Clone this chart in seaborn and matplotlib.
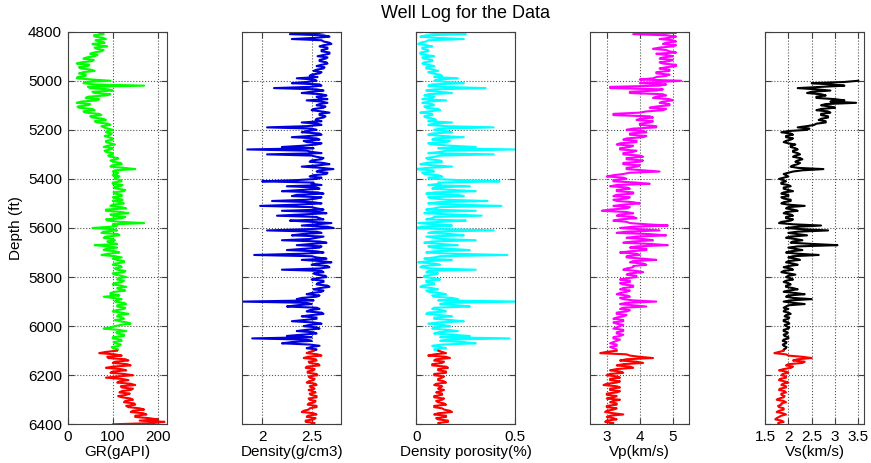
import numpy as np
import pandas as pd
import matplotlib
matplotlib.use("Agg")
import matplotlib.pyplot as plt
import seaborn as sns

# Depth samples every 5 ft
depth = np.arange(4800, 6401, 5)
split_depth = 6100

# Gamma ray (gAPI), one row per 100 ft
gr = [
    65, 72, 80, 58, 60, 78, 85, 62, 70, 82, 55, 68, 88, 60, 65, 80, 75, 58, 50, 66,
    60, 42, 35, 58, 55, 30, 20, 48, 45, 25, 30, 52, 60, 35, 25, 40, 40, 22, 20, 55,
    95, 40, 35, 60, 170, 45, 50, 90, 100, 55, 60, 95, 85, 45, 40, 70, 65, 30, 20, 50,
    45, 22, 25, 55, 60, 35, 40, 70, 75, 50, 55, 80, 85, 60, 65, 90, 95, 75, 80, 90,
    100, 88, 85, 98, 95, 82, 90, 100, 100, 85, 85, 95, 105, 88, 80, 100, 95, 82, 85, 100,
    100, 90, 95, 112, 110, 95, 100, 118, 120, 98, 95, 125, 150, 105, 100, 112, 110, 100, 115, 105,
    105, 118, 120, 100, 100, 122, 115, 102, 110, 128, 125, 102, 105, 120, 120, 100, 110, 122, 100, 118,
    125, 100, 95, 118, 130, 85, 85, 120, 135, 95, 100, 128, 120, 85, 90, 115, 170, 100, 110, 95,
    55, 100, 110, 80, 75, 112, 115, 85, 80, 100, 105, 88, 95, 110, 60, 90, 110, 85, 80, 105,
    115, 90, 75, 105, 120, 100, 110, 125, 125, 105, 100, 118, 120, 105, 110, 128, 125, 100, 105, 120,
    130, 112, 110, 125, 120, 105, 100, 118, 130, 110, 115, 128, 105, 95, 95, 115, 80, 100, 120, 108,
    105, 125, 130, 110, 110, 128, 125, 108, 100, 120, 135, 112, 110, 122, 125, 105, 115, 132, 140, 118,
    105, 95, 80, 112, 130, 108, 110, 125, 125, 100, 100, 118, 120, 102, 105, 118, 115, 98, 100, 112,
    110, 85, 70, 105, 120, 88, 90, 128, 135, 105, 100, 132, 140, 100, 85, 118, 130, 100, 95, 125,
    145, 110, 85, 120, 135, 115, 110, 140, 150, 118, 120, 145, 140, 120, 115, 138, 130, 112, 120, 140,
    145, 128, 125, 148, 150, 130, 135, 160, 170, 145, 140, 168, 175, 150, 150, 180, 200, 160, 215, 190,
    100,
]

# Bulk density (g/cm3)
rho = [
    2.65, 2.58, 2.28, 2.62, 2.68, 2.55, 2.30, 2.60, 2.62, 2.68, 2.70, 2.62, 2.58, 2.66, 2.66, 2.60, 2.60, 2.68, 2.68, 2.62,
    2.56, 2.66, 2.64, 2.58, 2.58, 2.65, 2.66, 2.60, 2.55, 2.63, 2.62, 2.55, 2.52, 2.60, 2.58, 2.50, 2.48, 2.56, 2.35, 2.52,
    2.55, 2.45, 2.30, 2.58, 2.60, 2.48, 2.12, 2.55, 2.62, 2.50, 2.40, 2.60, 2.65, 2.55, 2.58, 2.66, 2.45, 2.60, 2.66, 2.58,
    2.55, 2.64, 2.62, 2.52, 2.50, 2.60, 2.68, 2.58, 2.58, 2.64, 2.62, 2.55, 2.54, 2.60, 2.40, 2.56, 2.60, 2.45, 2.05, 2.50,
    2.55, 2.45, 2.40, 2.58, 2.60, 2.48, 2.30, 2.55, 2.58, 2.42, 2.45, 2.60, 2.55, 2.40, 2.20, 2.52, 1.85, 2.45, 2.50, 2.60,
    2.05, 2.50, 2.55, 2.62, 2.60, 2.50, 2.48, 2.62, 2.68, 2.55, 2.40, 2.60, 2.72, 2.58, 2.55, 2.66, 2.65, 2.52, 2.48, 2.60,
    2.55, 2.35, 2.00, 2.52, 2.50, 2.60, 2.25, 2.55, 2.58, 2.40, 2.20, 2.56, 2.62, 2.35, 2.30, 2.60, 2.55, 2.45, 2.10, 2.52,
    2.60, 2.35, 1.98, 2.50, 2.55, 2.62, 2.20, 2.58, 2.65, 2.40, 2.15, 2.55, 2.58, 2.62, 2.28, 2.50, 2.70, 2.55, 2.40, 2.66,
    2.72, 2.45, 2.05, 2.55, 2.60, 2.40, 2.30, 2.62, 2.55, 2.48, 2.20, 2.58, 2.65, 2.50, 2.35, 2.60, 2.58, 2.42, 2.25, 2.55,
    2.62, 2.40, 1.92, 2.50, 2.55, 2.65, 2.40, 2.60, 2.70, 2.55, 2.50, 2.66, 2.68, 2.58, 2.20, 2.60, 2.62, 2.52, 2.55, 2.64,
    2.65, 2.55, 2.50, 2.62, 2.62, 2.56, 2.55, 2.66, 2.68, 2.58, 2.52, 2.62, 2.60, 2.50, 2.45, 2.58, 2.55, 2.40, 2.35, 2.52,
    1.80, 2.45, 2.50, 2.35, 2.25, 2.55, 2.58, 2.48, 2.45, 2.60, 2.62, 2.50, 2.40, 2.55, 2.55, 2.42, 2.30, 2.52, 2.60, 2.48,
    2.42, 2.55, 2.58, 2.45, 2.35, 2.52, 2.55, 2.40, 2.25, 2.50, 1.90, 2.45, 2.50, 2.30, 2.20, 2.48, 2.58, 2.50, 2.45, 2.55,
    2.52, 2.48, 2.45, 2.56, 2.60, 2.46, 2.42, 2.54, 2.55, 2.47, 2.48, 2.57, 2.58, 2.45, 2.44, 2.53, 2.52, 2.46, 2.46, 2.55,
    2.56, 2.47, 2.48, 2.53, 2.52, 2.47, 2.45, 2.54, 2.55, 2.48, 2.50, 2.53, 2.47, 2.51, 2.54, 2.48, 2.49, 2.55, 2.55, 2.47,
    2.48, 2.54, 2.53, 2.47, 2.46, 2.55, 2.55, 2.48, 2.47, 2.42, 2.40, 2.52, 2.55, 2.46, 2.45, 2.54, 2.52, 2.44, 2.44, 2.53,
    2.50,
]

# Density porosity (fraction)
phi = [
    0.04, 0.08, 0.25, 0.05, 0.02, 0.09, 0.24, 0.06, 0.05, 0.02, 0.01, 0.05, 0.08, 0.03, 0.03, 0.06, 0.06, 0.02, 0.02, 0.05,
    0.09, 0.03, 0.04, 0.08, 0.08, 0.04, 0.03, 0.06, 0.09, 0.05, 0.05, 0.09, 0.11, 0.06, 0.08, 0.12, 0.13, 0.09, 0.21, 0.11,
    0.09, 0.15, 0.24, 0.08, 0.06, 0.13, 0.35, 0.09, 0.05, 0.12, 0.18, 0.06, 0.04, 0.09, 0.08, 0.03, 0.15, 0.06, 0.03, 0.08,
    0.09, 0.04, 0.05, 0.11, 0.12, 0.06, 0.02, 0.08, 0.08, 0.04, 0.05, 0.09, 0.10, 0.06, 0.18, 0.09, 0.06, 0.15, 0.39, 0.12,
    0.09, 0.15, 0.18, 0.08, 0.06, 0.13, 0.24, 0.09, 0.08, 0.17, 0.15, 0.06, 0.09, 0.18, 0.30, 0.11, 0.50, 0.15, 0.12, 0.06,
    0.39, 0.12, 0.09, 0.05, 0.06, 0.12, 0.13, 0.05, 0.02, 0.09, 0.18, 0.06, -0.01, 0.08, 0.09, 0.03, 0.04, 0.11, 0.13, 0.06,
    0.09, 0.21, 0.42, 0.11, 0.12, 0.06, 0.27, 0.09, 0.08, 0.18, 0.30, 0.09, 0.05, 0.21, 0.24, 0.06, 0.09, 0.15, 0.36, 0.11,
    0.06, 0.21, 0.43, 0.12, 0.09, 0.05, 0.30, 0.08, 0.04, 0.18, 0.33, 0.09, 0.08, 0.05, 0.25, 0.12, 0.01, 0.09, 0.18, 0.03,
    -0.01, 0.15, 0.39, 0.09, 0.06, 0.18, 0.24, 0.05, 0.09, 0.13, 0.30, 0.08, 0.04, 0.12, 0.21, 0.06, 0.08, 0.17, 0.27, 0.09,
    0.05, 0.18, 0.46, 0.12, 0.09, 0.04, 0.18, 0.06, 0.01, 0.09, 0.12, 0.03, 0.02, 0.08, 0.30, 0.06, 0.05, 0.11, 0.09, 0.04,
    0.04, 0.09, 0.12, 0.05, 0.05, 0.09, 0.09, 0.03, 0.02, 0.08, 0.11, 0.05, 0.06, 0.12, 0.15, 0.08, 0.09, 0.18, 0.21, 0.11,
    0.53, 0.15, 0.12, 0.21, 0.27, 0.09, 0.08, 0.13, 0.15, 0.06, 0.05, 0.12, 0.18, 0.09, 0.09, 0.17, 0.24, 0.11, 0.06, 0.13,
    0.17, 0.09, 0.08, 0.15, 0.21, 0.11, 0.09, 0.18, 0.27, 0.12, 0.47, 0.15, 0.12, 0.24, 0.30, 0.13, 0.08, 0.12, 0.15, 0.09,
    0.11, 0.13, 0.15, 0.09, 0.06, 0.15, 0.17, 0.10, 0.09, 0.14, 0.13, 0.08, 0.08, 0.15, 0.16, 0.11, 0.11, 0.15, 0.15, 0.09,
    0.09, 0.14, 0.13, 0.11, 0.11, 0.14, 0.15, 0.10, 0.09, 0.13, 0.12, 0.11, 0.14, 0.12, 0.10, 0.13, 0.13, 0.09, 0.09, 0.14,
    0.13, 0.10, 0.11, 0.14, 0.15, 0.09, 0.09, 0.13, 0.14, 0.17, 0.18, 0.11, 0.09, 0.15, 0.15, 0.10, 0.11, 0.16, 0.16, 0.11,
    0.12,
]

# P-wave velocity (km/s)
vp = [
    4.9, 5.1, 3.8, 4.8, 5.1, 4.9, 4.6, 5.0, 5.1, 4.8, 4.7, 5.1, 5.0, 4.6, 4.4, 4.8, 4.9, 5.1, 4.5, 4.8,
    5.0, 4.7, 4.6, 5.0, 4.9, 4.6, 4.7, 5.1, 5.1, 4.8, 4.6, 4.9, 4.9, 4.5, 4.5, 4.9, 4.8, 4.5, 4.4, 4.0,
    5.25, 4.6, 4.0, 4.8, 4.6, 3.1, 3.1, 4.7, 4.5, 3.7, 3.7, 4.7, 4.8, 4.5, 4.4, 4.9, 5.0, 4.7, 4.6, 4.9,
    4.9, 4.5, 4.3, 4.8, 4.7, 4.2, 4.0, 3.2, 3.2, 4.3, 4.4, 4.0, 3.9, 4.4, 4.3, 4.0, 4.0, 4.5, 4.5, 3.8,
    3.6, 4.1, 4.2, 3.7, 3.7, 4.2, 4.1, 3.6, 3.5, 3.9, 3.9, 3.4, 3.3, 3.8, 3.7, 3.4, 3.4, 3.9, 3.8, 3.5,
    3.5, 4.0, 4.1, 3.6, 3.6, 4.1, 4.0, 3.5, 3.5, 4.0, 3.9, 3.6, 3.6, 4.1, 4.6, 3.7, 3.5, 3.2, 3.0, 3.5,
    3.6, 3.2, 3.2, 3.9, 4.3, 3.3, 3.1, 3.6, 3.7, 3.3, 3.3, 3.8, 3.8, 3.3, 3.2, 3.7, 3.6, 3.2, 3.3, 3.8,
    4.0, 3.5, 3.2, 3.7, 3.6, 3.1, 2.85, 3.6, 3.8, 3.4, 3.3, 3.8, 3.9, 3.4, 3.2, 3.6, 3.7, 4.2, 4.85, 3.8,
    3.4, 4.0, 4.6, 3.6, 3.3, 4.3, 4.8, 3.9, 3.6, 4.1, 4.4, 3.8, 3.5, 4.3, 4.85, 3.9, 3.7, 4.2, 4.2, 3.7,
    3.4, 3.9, 4.0, 3.6, 3.6, 4.1, 4.5, 3.8, 3.7, 4.1, 4.2, 3.8, 3.8, 3.6, 3.5, 3.9, 4.1, 3.7, 3.6, 3.9,
    3.9, 3.6, 3.4, 3.7, 3.7, 3.4, 3.5, 3.8, 3.8, 3.5, 3.4, 3.7, 3.6, 3.4, 3.3, 3.6, 3.7, 3.4, 3.5, 3.8,
    4.5, 3.6, 3.4, 3.8, 4.2, 3.5, 3.4, 3.7, 3.6, 3.3, 3.3, 3.6, 3.5, 3.3, 3.2, 3.5, 3.5, 3.2, 3.3, 3.5,
    3.4, 3.3, 3.2, 3.5, 3.5, 3.3, 3.3, 3.5, 3.4, 3.2, 3.2, 3.4, 3.3, 3.2, 3.1, 3.3, 3.3, 3.1, 3.2, 3.3,
    3.3, 3.0, 2.8, 3.6, 3.7, 4.0, 4.4, 3.6, 3.4, 3.9, 4.1, 3.5, 3.3, 3.7, 3.8, 3.3, 3.1, 3.4, 3.5, 3.1,
    3.0, 3.3, 3.4, 3.1, 3.1, 3.4, 3.3, 3.0, 2.9, 3.3, 3.4, 3.1, 3.1, 3.4, 3.3, 3.0, 3.0, 3.3, 3.2, 3.0,
    3.4, 3.2, 3.1, 3.3, 3.3, 3.0, 3.0, 3.3, 3.2, 3.0, 2.95, 3.2, 3.5, 3.1, 3.0, 3.2, 3.3, 3.0, 2.95, 3.2,
    3.1,
]

# S-wave velocity (km/s); not logged above 5000 ft
nan = np.nan
vs = [nan] * 40 + [
    3.5, 3.2, 2.5, 2.9, 3.2, 2.7, 2.2, 2.6, 2.9, 2.5, 2.4, 2.7, 2.8, 2.6, 2.6, 3.0, 3.2, 2.9, 3.45, 2.8,
    2.7, 2.9, 3.0, 2.7, 2.6, 2.85, 2.9, 2.7, 2.7, 2.85, 2.85, 2.7, 2.65, 2.8, 2.8, 2.6, 2.55, 2.4, 2.2, 2.45,
    2.4, 2.0, 1.85, 2.05, 2.1, 1.95, 1.95, 2.1, 2.05, 1.95, 1.9, 2.0, 2.15, 2.05, 2.05, 2.15, 2.2, 2.1, 2.1, 2.2,
    2.25, 2.15, 2.1, 2.25, 2.3, 2.2, 2.15, 2.25, 2.2, 2.1, 2.05, 2.2, 2.75, 2.3, 2.1, 2.0, 1.9, 1.95, 2.0, 1.9,
    1.8, 1.9, 1.95, 1.85, 1.85, 2.0, 2.05, 1.9, 1.9, 2.0, 2.1, 1.9, 1.85, 2.0, 2.0, 1.85, 1.9, 2.05, 2.05, 1.9,
    1.85, 2.0, 2.35, 2.0, 1.95, 2.1, 2.2, 1.95, 1.9, 2.05, 2.1, 1.95, 1.95, 2.1, 2.05, 1.85, 1.8, 2.1, 2.7, 2.2,
    1.95, 2.3, 2.85, 2.2, 2.0, 2.2, 2.4, 2.05, 1.95, 2.15, 2.3, 2.1, 2.05, 2.5, 3.05, 2.2, 2.0, 2.15, 2.3, 2.05,
    1.95, 2.2, 2.65, 2.1, 2.0, 2.15, 2.25, 2.0, 1.95, 2.1, 2.2, 2.0, 1.9, 2.05, 2.1, 1.9, 1.85, 2.0, 2.15, 2.0,
    1.95, 2.05, 2.1, 1.95, 1.9, 2.0, 2.05, 1.95, 1.95, 2.1, 2.2, 2.0, 1.9, 2.15, 2.35, 2.0, 1.95, 2.1, 2.5, 2.05,
    1.9, 2.1, 2.35, 2.0, 1.95, 1.9, 2.0, 1.92, 1.9, 2.0, 2.05, 1.95, 1.92, 2.02, 2.0, 1.9, 1.9, 2.0, 2.02, 1.92,
    1.95, 2.02, 2.0, 1.9, 1.9, 1.98, 1.98, 1.9, 1.92, 2.0, 2.0, 1.9, 1.88, 1.96, 1.95, 1.88, 1.9, 1.96, 1.95, 1.9,
    1.9, 1.8, 1.7, 1.95, 2.0, 2.3, 2.5, 2.2, 2.1, 2.35, 2.3, 2.0, 1.95, 2.1, 2.05, 1.9, 1.8, 1.95, 2.0, 1.88,
    1.85, 1.95, 1.95, 1.82, 1.8, 1.92, 2.0, 1.88, 1.85, 1.95, 1.95, 1.82, 1.8, 1.92, 1.95, 1.85, 1.85, 1.92, 1.9, 1.8,
    1.75, 1.9, 1.95, 1.85, 1.85, 1.78, 1.8, 1.9, 1.9, 1.8, 1.75, 1.88, 1.95, 1.85, 1.8, 1.75, 1.72, 1.85, 1.9, 1.78,
    1.8,
]

tracks = [
    ("GR(gAPI)", gr, "#00ff00", (0, 220), [0, 100, 200], ["0", "100", "200"]),
    ("Density(g/cm3)", rho, "#0000dd", (1.8, 2.8), [2, 2.5], ["2", "2.5"]),
    ("Density porosity(%)", phi, "#00ffff", (0, 0.5), [0, 0.5], ["0", "0.5"]),
    ("Vp(km/s)", vp, "#ff00ff", (2.5, 5.5), [3, 4, 5], ["3", "4", "5"]),
    ("Vs(km/s)", vs, "#000000", (1.5, 3.62), [1.5, 2, 2.5, 3, 3.5],
     ["1.5", "2", "2.5", "3", "3.5"]),
]
lower_color = "#ff0000"
depth_ticks = list(range(4800, 6401, 200))

sns.set_theme(style="white")
plt.rcParams["font.family"] = ["Liberation Sans", "DejaVu Sans"]
plt.rcParams["font.size"] = 11
plt.rcParams["text.color"] = "black"
plt.rcParams["axes.labelcolor"] = "black"
plt.rcParams["xtick.labelcolor"] = "black"
plt.rcParams["ytick.labelcolor"] = "black"

fig = plt.figure(figsize=(8.71, 4.63), dpi=100)
lefts = [0.0777, 0.2782, 0.4780, 0.6777, 0.8783]
width, bottom, height = 0.1137, 0.0836, 0.848

for i, (label, values, color, xlim, xticks, xticklabels) in enumerate(tracks):
    ax = fig.add_axes([lefts[i], bottom, width, height])
    df = pd.DataFrame({"depth": depth, "value": values})
    upper = df[df["depth"] <= split_depth]
    lower = df[df["depth"] >= split_depth]
    sns.lineplot(data=upper, x="value", y="depth", orient="y", estimator=None,
                 color=color, lw=1.5, ax=ax)
    sns.lineplot(data=lower, x="value", y="depth", orient="y", estimator=None,
                 color=lower_color, lw=1.5, ax=ax)
    ax.set_xlim(*xlim)
    ax.set_ylim(6400, 4800)
    ax.set_xticks(xticks)
    ax.set_xticklabels(xticklabels)
    ax.set_yticks(depth_ticks)
    if i == 0:
        ax.set_yticklabels([str(d) for d in depth_ticks])
        ax.set_ylabel("Depth (ft)", fontsize=11, labelpad=4)
    else:
        ax.set_yticklabels([])
        ax.set_ylabel("")
    ax.set_xlabel(label, fontsize=11, labelpad=1)
    ax.grid(True, linestyle=":", color="#555555", lw=0.8)
    ax.tick_params(direction="in", length=4, width=0.8, color="#404040",
                   top=True, right=True, bottom=True, left=True,
                   labelsize=11, pad=4, labelcolor="black")
    for s in ax.spines.values():
        s.set_color("#404040")
        s.set_linewidth(0.8)
        s.set_visible(True)
    if i == 2:
        ax.set_title("Well Log for the Data", fontsize=13, pad=10, color="black")

fig.savefig("out.png", dpi=100)
